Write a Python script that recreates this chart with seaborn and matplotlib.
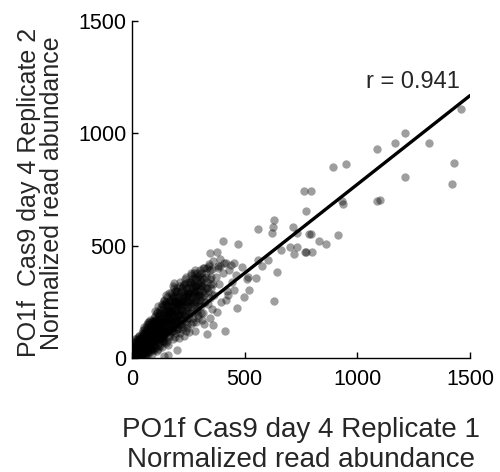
import numpy as np
import pandas as pd
import matplotlib
matplotlib.use('Agg')
import matplotlib.pyplot as plt
import seaborn as sns

# sparse points away from the main cloud
rep1_outer = [1460, 1211, 1169, 1318, 1089, 1429, 1418, 1210, 893, 948,
              762, 794, 772, 930, 938, 1086, 1100, 632, 627, 558,
              623, 713, 731, 786, 793, 831, 860, 913, 701, 731,
              768, 719, 797, 772, 660, 605, 558, 575, 642, 632,
              472, 402, 346, 376, 513, 549, 520, 497, 464, 427,
              453, 414, 331, 358, 201, 143, 417, 453, 391, 487,
              509, 185, 142, 160]
rep2_outer = [1107, 1003, 956, 959, 932, 870, 774, 805, 852, 864,
              744, 744, 655, 697, 686, 700, 702, 615, 585, 574,
              556, 581, 556, 551, 551, 519, 507, 548, 496, 496,
              474, 464, 470, 474, 479, 437, 437, 408, 385, 252,
              507, 522, 467, 470, 359, 356, 304, 270, 222, 279,
              304, 122, 107, 148, 34, 8, 422, 422, 408, 405,
              351, 335, 254, 13]

# dense cloud near the origin (estimated)
rep1_cloud = [3, 8, 12, 5, 15, 20, 18, 25, 10, 30,
              22, 35, 28, 40, 45, 33, 6, 14, 38, 48,
              2, 9, 17, 27, 36, 43, 12, 24, 31, 47,
              4, 19, 29, 41, 7, 16, 34, 44, 26, 49,
              1, 6, 11, 16, 21, 26, 31, 36, 41, 46,
              3, 9, 14, 19, 24, 29, 34, 39, 44, 49,
              5, 10, 15, 20, 25, 30, 35, 40, 45, 50,
              2, 7, 13, 18, 23, 28, 33, 38, 43, 48,
              55, 58, 53, 57, 59, 54, 56, 51, 52, 60,
              52, 58, 63, 67, 72, 55, 78, 83, 88, 95,
              60, 65, 70, 75, 80, 85, 90, 98, 54, 62,
              68, 74, 82, 87, 93, 57, 66, 77, 91, 99,
              51, 59, 64, 71, 79, 86, 94, 56, 73, 96,
              61, 69, 76, 84, 92, 53, 81, 89, 97, 100,
              61, 64, 67, 70, 73, 76, 79, 82, 85, 88,
              91, 94, 97, 100, 103, 106, 109, 112, 115, 118,
              121, 124, 127, 130, 63, 66, 69, 72, 75, 78,
              81, 84, 87, 90, 93, 96, 99, 102, 105, 108,
              111, 114, 117, 120, 123, 126, 129, 62, 68, 74,
              80, 86, 92, 98, 104, 110, 116, 122, 128, 95,
              102, 108, 113, 118, 123, 128, 133, 138, 143, 148,
              105, 110, 116, 121, 126, 131, 136, 141, 146, 104,
              111, 119, 124, 129, 134, 139, 144, 149, 107, 115,
              101, 109, 117, 125, 132, 140, 147, 112, 127, 142,
              103, 114, 122, 130, 137, 145, 106, 120, 135, 150,
              131, 134, 137, 140, 143, 146, 149, 152, 155, 158,
              161, 164, 167, 170, 173, 176, 179, 182, 185, 188,
              191, 194, 197, 200, 203, 206, 209, 212, 215, 218,
              133, 139, 145, 151, 157, 163, 169, 175, 181, 187,
              193, 199, 205, 211, 217, 136, 148, 160, 172, 184,
              196, 208, 220, 142, 154, 166, 178, 190, 202, 214,
              141, 147, 153, 159, 165, 171, 177, 183, 189, 195,
              152, 158, 163, 168, 172, 178, 183, 188, 193, 198,
              155, 160, 166, 170, 175, 181, 186, 191, 196, 153,
              157, 162, 167, 173, 177, 182, 187, 192, 197, 165,
              154, 159, 171, 176, 185, 190, 195, 199, 161, 180,
              150, 170, 190, 160, 180,
              201, 207, 213, 219, 225, 231, 237, 243, 249, 255,
              203, 208, 213, 218, 223, 228, 233, 238, 243, 248,
              205, 211, 216, 221, 226, 231, 236, 241, 246, 201,
              207, 214, 219, 225, 230, 235, 240, 245, 250, 222,
              210, 227, 239, 244, 212, 210, 230, 250, 200, 220,
              222, 226, 230, 234, 238, 242, 246, 250, 254, 258,
              262, 266, 270, 274, 278, 282, 286, 290, 294, 298,
              302, 306, 310, 314, 318, 224, 236, 248, 260, 272,
              284, 296, 308, 232, 244, 256, 268, 280, 292, 304,
              261, 267, 273, 279, 285, 291, 297, 303, 309, 315,
              253, 258, 263, 268, 273, 278, 283, 288, 293, 298,
              255, 260, 266, 271, 276, 281, 286, 291, 296, 262,
              257, 265, 270, 275, 285, 290, 295, 300, 280, 252,
              270, 290, 310, 240, 260, 280, 300,
              303, 308, 314, 320, 326, 332, 338, 344, 350, 356,
              305, 311, 317, 323, 329, 335, 341, 347, 353, 359,
              321, 327, 333, 339, 345, 351, 357, 330, 350, 320,
              340, 360, 380, 318, 345,
              365, 372, 380, 388, 395, 402, 410, 420, 430, 445,
              375, 392, 415, 438, 460]
rep2_cloud = [5, 12, 20, 30, 8, 25, 45, 15, 55, 40,
              60, 22, 70, 35, 55, 85, 18, 35, 10, 80,
              2, 40, 60, 50, 65, 20, 75, 90, 100, 45,
              22, 3, 28, 95, 65, 48, 12, 110, 8, 30,
              10, 28, 6, 42, 14, 62, 24, 78, 50, 92,
              35, 4, 52, 28, 80, 38, 55, 15, 70, 105,
              15, 65, 25, 70, 33, 85, 45, 60, 30, 55,
              50, 20, 85, 10, 45, 18, 100, 38, 88, 18,
              90, 40, 20, 110, 70, 50, 8, 125, 85, 30,
              60, 25, 90, 120, 45, 140, 80, 30, 110, 150,
              15, 55, 100, 160, 130, 65, 40, 95, 105, 75,
              150, 35, 170, 90, 125, 85, 130, 115, 60, 180,
              35, 115, 45, 80, 50, 140, 75, 10, 145, 115,
              95, 20, 105, 100, 165, 125, 70, 20, 45, 130,
              45, 110, 70, 135, 25, 95, 150, 60, 120, 40,
              100, 155, 70, 110, 145, 50, 170, 95, 130, 60,
              185, 140, 90, 160, 85, 30, 120, 160, 60, 100,
              135, 45, 165, 70, 110, 140, 35, 125, 175, 90,
              205, 120, 170, 85, 145, 110, 225, 140, 60, 125,
              90, 95, 130, 160, 75, 145, 100, 200, 130, 85,
              60, 140, 100, 190, 55, 160, 120, 220, 85, 175,
              95, 200, 40, 130, 215, 75, 180, 140, 240, 165,
              75, 150, 90, 110, 240, 100, 195, 65, 120, 170,
              210, 30, 230, 175, 50, 260, 125, 135, 145, 160,
              185, 115, 65, 200, 155, 110, 80, 105, 90, 210,
              95, 180, 130, 210, 70, 150, 250, 110, 190, 140,
              230, 100, 170, 260, 130, 210, 160, 120, 250, 180,
              140, 280, 180, 230, 130, 200, 250, 170, 290, 220,
              160, 75, 185, 165, 215, 145, 200, 115, 190, 225,
              165, 130, 265, 210, 150, 235, 120, 180, 230, 150,
              215, 150, 260, 105, 270, 210, 280, 250, 185, 240,
              200, 130, 240, 180, 290, 150, 260, 200, 300, 170,
              140, 250, 95, 190, 290, 120, 230, 160, 270, 200,
              75, 205, 165, 130, 245, 85, 310, 215, 110, 280,
              180, 120, 255, 175, 145, 270, 140, 250, 300, 220,
              230, 155, 215, 200, 185, 95, 165, 240, 60, 320,
              160, 210, 240, 120, 270,
              250, 190, 320, 240, 180, 280, 350, 210, 300, 260,
              160, 260, 110, 300, 210, 140, 330, 240, 180, 290,
              220, 190, 250, 130, 280, 235, 200, 310, 150, 310,
              90, 340, 175, 255, 100, 270, 120, 225, 340, 195,
              275, 320, 165, 275, 145, 230, 250, 290, 300, 310,
              230, 170, 295, 210, 260, 135, 310, 250, 180, 340,
              260, 200, 330, 240, 300, 215, 350, 270, 190, 330,
              280, 230, 360, 300, 250, 265, 190, 225, 285, 160,
              260, 300, 200, 330, 280, 240, 270, 320, 230, 320,
              340, 250, 380, 290, 320, 360, 270, 390, 320, 350,
              200, 300, 150, 350, 250, 120, 320, 210, 280, 370,
              270, 230, 310, 180, 360, 280, 160, 330, 240, 380,
              330, 215, 290, 300, 250, 380, 180, 305, 355, 115,
              320, 300, 270, 360, 370, 390, 350,
              260, 380, 200, 330, 290, 400, 240, 350, 310, 395,
              340, 170, 400, 250, 360, 310, 420, 265, 220, 330,
              280, 380, 340, 300, 390, 360, 280, 310, 330, 400,
              410, 430, 400, 150, 180,
              280, 360, 410, 330, 250, 380, 425, 300, 390, 340,
              205, 440, 260, 415, 370]

# fitted line and correlation as shown in the figure
r_value = 0.941
fit_slope = 0.79
fit_intercept = -17
ticks = [0, 500, 1000, 1500]

df = pd.DataFrame({
    'rep1': rep1_cloud + rep1_outer,
    'rep2': rep2_cloud + rep2_outer,
})
fit = pd.DataFrame({'rep1': [ticks[0], ticks[-1]]})
fit['rep2'] = fit_slope * fit['rep1'] + fit_intercept

sns.set_style('ticks')
plt.rcParams['font.family'] = ['Liberation Sans', 'DejaVu Sans']

fig = plt.figure(figsize=(5, 4.72), dpi=100)
ax = fig.add_axes([0.264, 0.2415, 0.676, 0.714])

sns.scatterplot(data=df, x='rep1', y='rep2', ax=ax, color='black',
                s=36, alpha=0.38, linewidth=0)
sns.lineplot(data=fit, x='rep1', y='rep2', ax=ax, color='black', lw=2.4)

ax.set_xlim(0, 1500)
ax.set_ylim(0, 1500)
ax.set_xticks(ticks)
ax.set_yticks(ticks)
ax.tick_params(direction='in', length=4, width=1, labelsize=15.5, colors='black')
ax.tick_params(axis='x', pad=8)
ax.tick_params(axis='y', pad=4)
sns.despine(ax=ax)
for s in ['left', 'bottom']:
    ax.spines[s].set_linewidth(1)
    ax.spines[s].set_color('black')

ax.text(1040, 1200, f'r = {r_value:.3f}', fontsize=17, ha='left', va='baseline')

ax.set_xlabel('PO1f Cas9 day 4 Replicate 1\nNormalized read abundance', fontsize=20)
ax.xaxis.set_label_coords(0.5, -0.175)
ax.set_ylabel('PO1f  Cas9 day 4 Replicate 2\nNormalized read abundance', fontsize=18,
              linespacing=0.95)
ax.yaxis.set_label_coords(-0.2, 0.49)

fig.savefig('out.png', dpi=100)
